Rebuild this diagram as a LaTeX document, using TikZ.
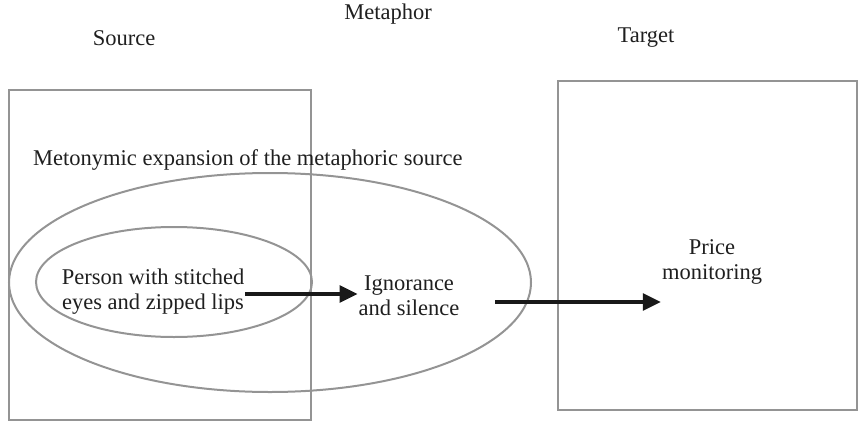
\documentclass[tikz,border=0pt]{standalone}
\usepackage{fontspec}
\setmainfont{Liberation Serif}
\usetikzlibrary{shapes.geometric,arrows.meta}
\begin{document}
\begin{tikzpicture}[x=1pt,y=-1pt,
  frame/.style={draw=black!42,line width=2pt},
  label/.style={font=\fontsize{22.5}{25}\selectfont,text=black!88,inner sep=1pt},
  block/.style={label,align=center},
  link/.style={draw=black!90,line width=3.2pt,-{Triangle[length=18pt,width=17pt]}}]
\useasboundingbox (0,0) rectangle (859,423);
% frames for source and target domains
\node[frame,rectangle,minimum width=302pt,minimum height=330pt] (srcbox) at (160,255) {};
\node[frame,rectangle,minimum width=299pt,minimum height=329pt] (tgtbox) at (707.5,245.5) {};
% metonymic expansion and its core
\node[frame,ellipse,minimum width=522pt,minimum height=219pt] (outer) at (270,282.5) {};
\node[frame,ellipse,minimum width=276pt,minimum height=110pt] (inner) at (174,282) {};
% headings
\node[label] (metaphor) at (388,14) {Metaphor};
\node[label] (source) at (124,38) {Source};
\node[label] (target) at (646,38) {Target};
\node[label,anchor=west] (meto) at (32,160) {Metonymic expansion of the metaphoric source};
% contents
\node[block] (person) at (153,291.5) {Person with stitched\\eyes and zipped lips};
\node[block] (ignorance) at (409,295.5) {Ignorance\\and silence};
\node[block] (price) at (712,261.5) {Price\\monitoring};
% mappings
\coordinate (m2start) at (495,302);
\draw[link] (person.east |- 0,294) -- (ignorance.west |- 0,294);
\draw[link] (m2start) -- (m2start -| price.west);
\end{tikzpicture}
\end{document}
